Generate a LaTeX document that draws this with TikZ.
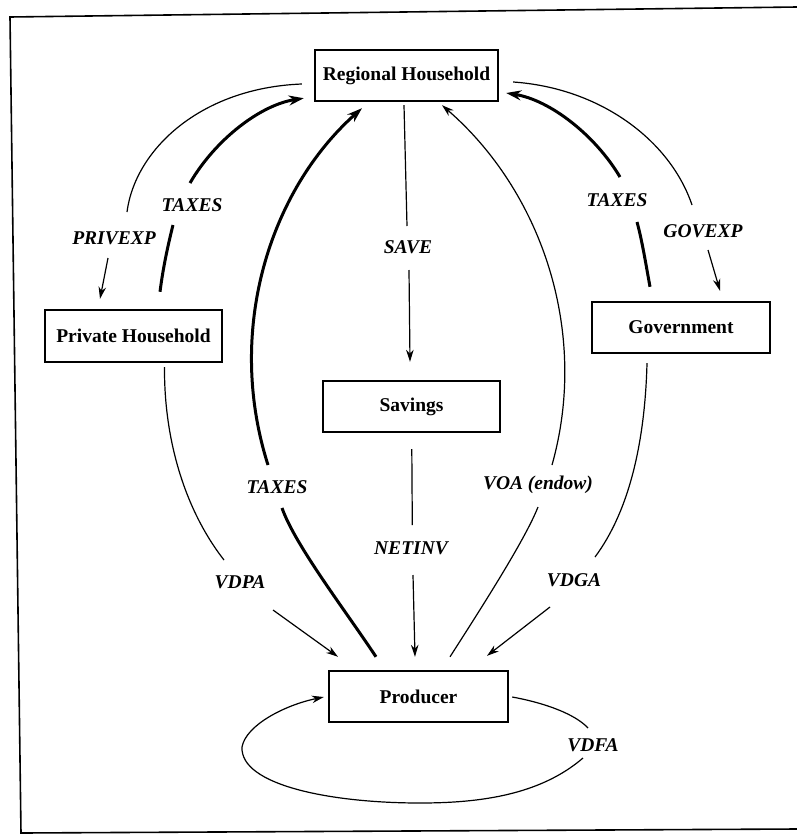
\documentclass[tikz,border=0pt]{standalone}
\usepackage{fontspec}
\setmainfont{Liberation Serif}
\usetikzlibrary{calc,arrows.meta}
\tikzset{
  box/.style={draw, line width=2.4pt, inner sep=0pt, font=\fontsize{19.5}{22}\selectfont\bfseries},
  lab/.style={inner sep=0pt, font=\fontsize{19.5}{22}\selectfont\bfseries\itshape},
  thinline/.style={line width=1.2pt},
  thickline/.style={line width=3pt},
  thinarrow/.style={thinline, -{Stealth[length=12pt,width=7.5pt]}},
  thickarrow/.style={thickline, -{Stealth[length=15pt,width=10pt]}},
  frame/.style={line width=1.6pt}
}
\begin{document}
\begin{tikzpicture}[x=1pt,y=-1pt]
\useasboundingbox (0,0) rectangle (797,835);
\fill[white] (0,0) rectangle (797,835);
\draw[frame] (797,7) -- (10,17) -- (21,833) -- (797,829);

% boxes
\node[box, minimum width=183pt, minimum height=51pt] (rh) at (406.5,75.5) {Regional Household};
\node[box, minimum width=177pt, minimum height=52pt] (ph) at (133.5,336) {Private Household};
\node[box, minimum width=178pt, minimum height=51pt] (gov) at (681,327.5) {Government};
\node[box, minimum width=177pt, minimum height=51pt] (sav) at (411.5,406.5) {Savings};
\node[box, minimum width=179pt, minimum height=51pt] (prod) at (418.5,696.5) {Producer};

% labels
\node[lab] (lprivexp) at (114,238) {PRIVEXP};
\node[lab] (ltaxl) at (192,205) {TAXES};
\node[lab] (lsave) at (408,247) {SAVE};
\node[lab] (ltaxr) at (617,200) {TAXES};
\node[lab] (lgovexp) at (703,231) {GOVEXP};
\node[lab] (ltaxm) at (277,487) {TAXES};
\node[lab] (lnetinv) at (411,548) {NETINV};
\node[lab] (lvoa) at (538,485) {VOA (endow)};
\node[lab] (lvdpa) at (240,582) {VDPA};
\node[lab] (lvdga) at (574,580) {VDGA};
\node[lab] (lvdfa) at (593,745) {VDFA};

% free ends next to labels
\coordinate (pe1) at (127,212); \coordinate (pe2) at (108,258);
\coordinate (tl1) at (173,225); \coordinate (tl2) at (190,183);
\coordinate (sv1) at (407,226); \coordinate (sv2) at (409,270);
\coordinate (tm1) at (282,508); \coordinate (tm2) at (268,465);
\coordinate (vo1) at (538,507); \coordinate (vo2) at (552,465);
\coordinate (ge1) at (692,205); \coordinate (ge2) at (708,250);
\coordinate (tr1) at (637,222); \coordinate (tr2) at (620,177);
\coordinate (vp1) at (224,560); \coordinate (vp2) at (273,610);
\coordinate (vg1) at (595,557); \coordinate (vg2) at (550,607);
\coordinate (ni1) at (412.3,525); \coordinate (ni2) at (413,575);
\coordinate (vf1) at (588,728); \coordinate (vf2) at (583,758);

% PRIVEXP
\draw[thinline] ($(rh.west)+(-12,8.5)$) .. controls (200,88) and (135,150) .. (pe1);
\draw[thinarrow] (pe2) -- ($(ph.north)+(-33.5,-10)$);
% TAXES left (private -> regional)
\draw[thickline] ($(ph.north)+(26.5,-17)$) .. controls (163,268) and (168,245) .. (tl1);
\draw[thickarrow] (tl2) .. controls (215,140) and (260,105) .. ($(rh.south west)+(-10,-4)$);
% SAVE
\draw[thinline] ($(rh.south)+(-2.5,3)$) -- (sv1);
\draw[thinarrow] (sv2) -- ($(sav.north)+(-1.5,-18)$);
% TAXES middle (producer -> regional)
\draw[thickline] ($(prod.north)+(-42.5,-13)$) .. controls (345,610) and (295,545) .. (tm1);
\draw[thickarrow] (tm2) .. controls (225,330) and (270,190) .. ($(rh.south)+(-44.5,6)$);
% VOA (endow)
\draw[thinline] ($(prod.north)+(31.5,-13)$) .. controls (480,610) and (525,540) .. (vo1);
\draw[thinarrow] (vo2) .. controls (590,330) and (540,190) .. ($(rh.south)+(35.5,3)$);
% GOVEXP
\draw[thinline] ($(rh.east)+(14,6.5)$) .. controls (600,88) and (670,140) .. (ge1);
\draw[thinarrow] (ge2) -- ($(gov.north)+(39,-10)$);
% TAXES right (government -> regional)
\draw[thickline] ($(gov.north)+(-31,-14)$) .. controls (646,265) and (642,240) .. (tr1);
\draw[thickarrow] (tr2) .. controls (595,135) and (550,100) .. ($(rh.east)+(7,17.5)$);
% VDPA
\draw[thinline] ($(ph.south)+(31,4)$) .. controls (164,440) and (185,510) .. (vp1);
\draw[thinarrow] (vp2) -- ($(prod.north)+(-80.5,-13)$);
% VDGA
\draw[thinline] ($(gov.south)+(-34,9)$) .. controls (645,440) and (630,510) .. (vg1);
\draw[thinarrow] (vg2) -- ($(prod.north)+(68.5,-14)$);
% NETINV
\draw[thinline] ($(sav.south)+(0.3,16)$) -- (ni1);
\draw[thinarrow] (ni2) -- ($(prod.north)+(-3.5,-13)$);
% VDFA loop
\draw[thinline] ($(prod.east)+(3,0.5)$) .. controls (545,703) and (575,714) .. (vf1);
\draw[thinarrow] (vf2) .. controls (540,795) and (480,803) .. (420,803)
  .. controls (330,803) and (240,785) .. (242,747)
  .. controls (246,725) and (285,705) .. ($(prod.west)+(-4,0.5)$);
\end{tikzpicture}
\end{document}
